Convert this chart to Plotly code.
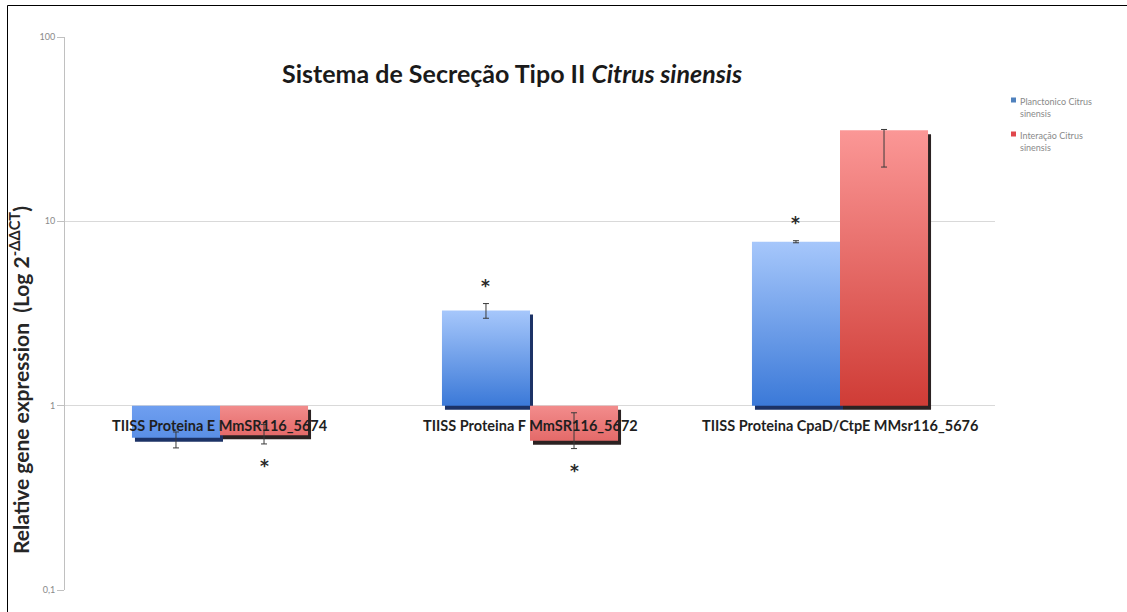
import plotly.graph_objects as go
import numpy as np

# ---- data -------------------------------------------------------------
categories = [
    "TIISS Proteina E MmSR116_5674",
    "TIISS Proteina F MmSR116_5672",
    "TIISS Proteina CpaD/CtpE MMsr116_5676",
]
series_names = ["Planctonico Citrus sinensis", "Interação Citrus sinensis"]

planctonico = [0.67, 3.28, 7.75]
planctonico_err_plus = [0.05, 0.30, 0.10]
planctonico_err_minus = [0.08, 0.30, 0.10]
planctonico_signif = [False, True, True]

interacao = [0.69, 0.645, 31.2]
interacao_err_plus = [0.10, 0.27, 0.30]
interacao_err_minus = [0.07, 0.06, 11.5]
interacao_signif = [True, True, False]

tick_vals = [0.1, 1, 10, 100]
tick_text = ["0,1", "1", "10", "100"]

# ---- layout geometry (pixels) -------------------------------------------
W, H = 1127, 612
ML, MR, MT, MB = 65, 132, 37, 22
PW, PH = W - ML - MR, H - MT - MB
DECADE_PX = PH / 3.0

BAR_W = 0.284          # width of one bar in category units
BASE = 1.0             # bars grow from 1 on the log axis
SHADOW_DX = 3 / (PW / 3)
SHADOW_F = 10 ** (-4 / DECADE_PX)


def px_x(px):
    return (px - ML) / PW


def px_y(py):
    return (H - MB - py) / PH


styles = [
    dict(pos_grad=[[0, "#3b79d8"], [1, "#a6c7fb"]],
         neg_grad=[[0, "#5a8fe6"], [1, "#6f9ff0"]],
         shadow="#1c3266", name=series_names[0], legend="#4f81bd"),
    dict(pos_grad=[[0, "#cf3c36"], [1, "#fb9796"]],
         neg_grad=[[0, "#e46a69"], [1, "#f28c8c"]],
         shadow="#2b2222", name=series_names[1], legend="#e0474c"),
]

series = [
    (planctonico, planctonico_err_plus, planctonico_err_minus, planctonico_signif),
    (interacao, interacao_err_plus, interacao_err_minus, interacao_signif),
]

fig = go.Figure()


def rect(x0, x1, y0, y1):
    return [x0, x1, x1, x0, x0], [y0, y0, y1, y1, y0]


# shadows first, bars above them
for s, (vals, _, _, _) in enumerate(series):
    for i, v in enumerate(vals):
        x0 = i - BAR_W + s * BAR_W
        xs, ys = rect(x0 + SHADOW_DX, x0 + BAR_W + SHADOW_DX, BASE * SHADOW_F, v * SHADOW_F)
        fig.add_trace(go.Scatter(x=xs, y=ys, mode="lines", fill="toself",
                                 fillcolor=styles[s]["shadow"], line=dict(width=0),
                                 hoverinfo="skip", showlegend=False))

for s, (vals, _, _, _) in enumerate(series):
    for i, v in enumerate(vals):
        x0 = i - BAR_W + s * BAR_W
        xs, ys = rect(x0, x0 + BAR_W, BASE, v)
        grad = styles[s]["pos_grad"] if v >= BASE else styles[s]["neg_grad"]
        fig.add_trace(go.Scatter(x=xs, y=ys, mode="lines", fill="toself",
                                 fillgradient=dict(type="vertical", colorscale=grad),
                                 line=dict(width=0), hoverinfo="skip", showlegend=False))

# error bars on top of the bars
for s, (vals, ep, em, _) in enumerate(series):
    xc = [i - BAR_W / 2 + s * BAR_W for i in range(len(vals))]
    fig.add_trace(go.Scatter(
        x=xc, y=vals, mode="markers", marker=dict(size=1, opacity=0),
        error_y=dict(type="data", symmetric=False, array=ep, arrayminus=em,
                     color="#3a3a3a", thickness=1, width=3),
        name=styles[s]["name"], showlegend=False, hoverinfo="skip"))

annotations = []

# significance marks
for s, (vals, ep, em, sig) in enumerate(series):
    for i, v in enumerate(vals):
        if not sig[i]:
            continue
        xc = i - BAR_W / 2 + s * BAR_W
        if v >= BASE:
            yv, shift = v + ep[i], 18
        else:
            yv, shift = v - em[i], -22
        annotations.append(dict(x=xc, y=np.log10(yv), xref="x", yref="y", text="<b>*</b>",
                                showarrow=False, yshift=shift,
                                font=dict(family="DejaVu Sans", size=17, color="#2a2a2a")))

# category labels sit on the line at 1
for i, c in enumerate(categories):
    annotations.append(dict(x=i, y=np.log10(BASE), xref="x", yref="y", text=c,
                            showarrow=False, yanchor="middle", yshift=-20,
                            font=dict(family="Lato", size=14.5, color="#1f1f1f",
                                      weight="bold")))

# axis title
annotations.append(dict(x=px_x(19), y=px_y(380), xref="paper", yref="paper",
                        xanchor="center", yanchor="middle",
                        text="Relative gene expression  (Log 2<sup>-ΔΔCT</sup>)",
                        textangle=-90, showarrow=False,
                        font=dict(family="Lato", size=21, color="#262626", weight="bold")))

# chart title
annotations.append(dict(x=px_x(512), y=px_y(73), xref="paper", yref="paper",
                        xanchor="center", yanchor="middle",
                        text="Sistema de Secreção Tipo II <i>Citrus sinensis</i>",
                        showarrow=False,
                        font=dict(family="Lato", size=25, color="#1a1a1a", weight="bold")))

shapes = []

# legend
legend_rows = [(100, 0), (134, 1)]
for py, s in legend_rows:
    shapes.append(dict(type="rect", xref="paper", yref="paper",
                       x0=px_x(1011), x1=px_x(1016), y0=px_y(py + 2.5), y1=px_y(py - 2.5),
                       line=dict(width=0), fillcolor=styles[s]["legend"]))
    first, last = styles[s]["name"].rsplit(" ", 1)
    annotations.append(dict(x=px_x(1018), y=px_y(py - 6), xref="paper", yref="paper",
                            text=f"{first}<br>{last}", showarrow=False,
                            xanchor="left", yanchor="top", align="left",
                            font=dict(family="Lato", size=9, color="#8a8a8a")))

# outer frame
shapes.append(dict(type="rect", xref="paper", yref="paper",
                   x0=px_x(7.5), x1=px_x(W + 5), y0=px_y(H + 5), y1=px_y(5.5),
                   line=dict(color="#000000", width=1), fillcolor="rgba(0,0,0,0)",
                   layer="above"))

fig.update_layout(
    width=W, height=H,
    margin=dict(l=ML, r=MR, t=MT, b=MB),
    paper_bgcolor="white", plot_bgcolor="white",
    showlegend=False,
    annotations=annotations,
    shapes=shapes,
    xaxis=dict(range=[-0.5, 2.5], showgrid=False, zeroline=False,
               showline=False, showticklabels=False, ticks=""),
    yaxis=dict(type="log", range=[-1, 2], tickvals=tick_vals, ticktext=tick_text,
               showgrid=True, gridcolor="#d9d9d9", gridwidth=1,
               showline=True, linecolor="#c0c0c0", linewidth=1,
               ticks="outside", ticklen=7, tickcolor="#c0c0c0",
               tickfont=dict(family="Lato", size=9, color="#8a8a8a"),
               zeroline=False),
)

fig.write_html("out.html")
